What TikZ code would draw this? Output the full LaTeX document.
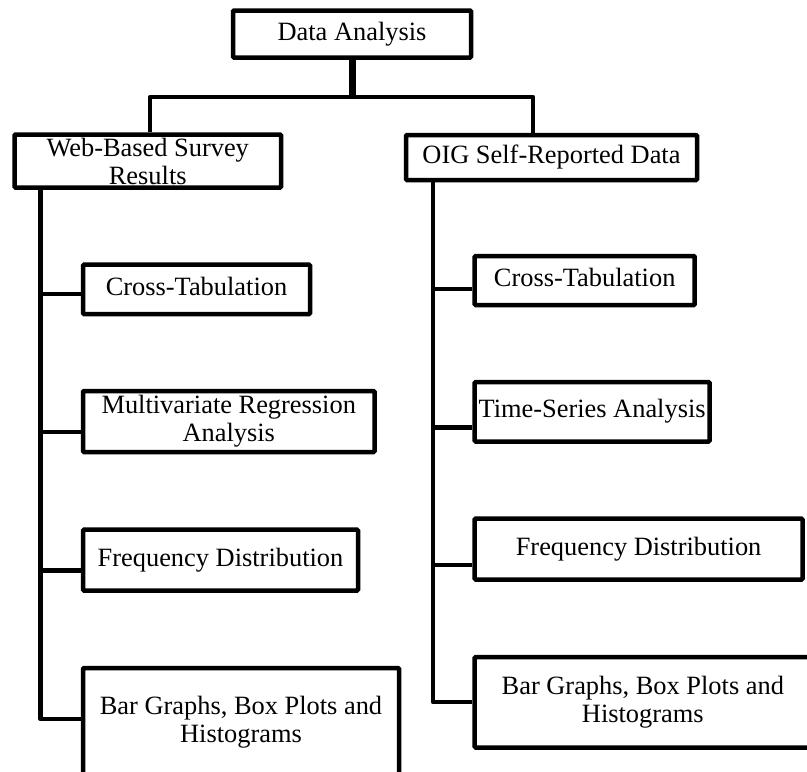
\documentclass[tikz,border=0pt]{standalone}
\usepackage{fontspec}
\setmainfont{Liberation Serif}
\begin{document}
\begin{tikzpicture}[x=1pt,y=-1pt,
  box/.style={draw=black, line width=4.5pt, rounded corners=1pt, inner sep=0pt, align=center, font=\fontsize{26.4}{28}\selectfont},
  one/.style={text height=18pt, text depth=5.7pt},
  conn/.style={draw=black, line width=4.5pt, line join=round},
  stem/.style={draw=black, line width=7pt}]
\useasboundingbox (0,0) rectangle (807,772);
% boxes
\node[box,one,minimum width=238pt,minimum height=47pt] (da) at (352,34) {Data Analysis};
\node[box,minimum width=266.5pt,minimum height=53pt] (web) at (147.75,161) {Web-Based Survey\\Results};
\node[box,one,minimum width=291pt,minimum height=45pt] (oig) at (551.5,157.5) {OIG Self-Reported Data};
\node[box,one,minimum width=227pt,minimum height=49.3pt] (ct1) at (196.5,289.35) {Cross-Tabulation};
\node[box,minimum width=291.5pt,minimum height=61pt] (mv) at (228.75,421.5) {Multivariate Regression\\Analysis};
\node[box,one,minimum width=275pt,minimum height=60.8pt] (fd1) at (220.5,560.1) {Frequency Distribution};
\node[box,minimum width=316pt,minimum height=108pt] (bg1) at (241,722) {Bar Graphs, Box Plots and\\Histograms};
\node[box,one,minimum width=220pt,minimum height=49pt] (ct2) at (584.7,280.5) {Cross-Tabulation};
\node[box,one,minimum width=234.8pt,minimum height=59.5pt] (ts) at (592.1,411.75) {Time-Series Analysis};
\node[box,one,minimum width=327.8pt,minimum height=60.8pt] (fd2) at (638.6,549.1) {Frequency Distribution};
\node[box,minimum width=336.3pt,minimum height=90.5pt] (bg2) at (642.85,702.25) {Bar Graphs, Box Plots and\\Histograms};
% junction coordinates
\coordinate (jl) at (150,97);
\coordinate (jr) at (533,97);
\coordinate (l1) at (40.5,294);
\coordinate (l2) at (40.5,432);
\coordinate (l3) at (40.5,570.5);
\coordinate (l4) at (40.5,719);
\coordinate (r1) at (433,289);
\coordinate (r2) at (433,427.5);
\coordinate (r3) at (433,565);
\coordinate (r4) at (433,702);
% top connectors
\draw[stem] (da.south) -- (da.south |- jl);
\draw[conn] (jl |- web.north) -- (jl) -- (jr) -- (jr |- oig.north);
% left spine
\draw[conn] (web.south -| l4) -- (l4) -- (bg1.west |- l4);
\draw[conn] (l1) -- (ct1.west |- l1);
\draw[conn] (l2) -- (mv.west |- l2);
\draw[conn] (l3) -- (fd1.west |- l3);
% right spine
\draw[conn] (oig.south -| r4) -- (r4) -- (bg2.west |- r4);
\draw[conn] (r1) -- (ct2.west |- r1);
\draw[conn] (r2) -- (ts.west |- r2);
\draw[conn] (r3) -- (fd2.west |- r3);
\end{tikzpicture}
\end{document}
